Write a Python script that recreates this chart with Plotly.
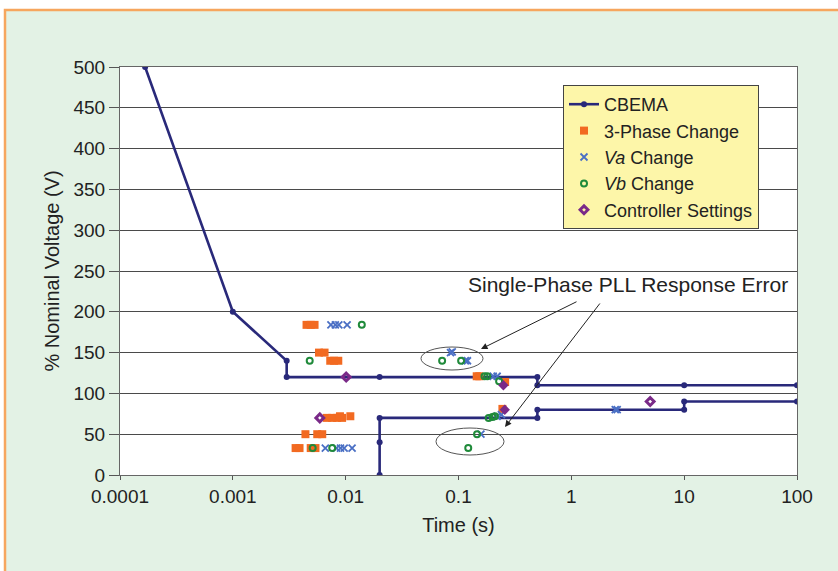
import plotly.graph_objects as go

# ---------------- data ----------------
cbema_t = [0.000167, 0.001, 0.003, 0.003, 0.02, 0.5, 0.5, 10, 100, None,
           0.02, 0.02, 0.02, 0.5, 0.5, 10, 10, 100]
cbema_v = [500, 200, 140, 120, 120, 120, 110, 110, 110, None,
           0, 40, 70, 70, 80, 80, 90, 90]

ph3_t = [0.0045, 0.0049, 0.0053,
         0.0058, 0.0065,
         0.0073, 0.0079, 0.0086,
         0.145, 0.153,
         0.259,
         0.245,
         0.0068, 0.0076, 0.0084, 0.0093,
         0.0089, 0.0110,
         0.0044, 0.0056, 0.0062,
         0.0036, 0.0039, 0.0049, 0.0054]
ph3_v = [184, 184, 184,
         150, 150,
         140, 140, 140,
         121, 121,
         114,
         81,
         70, 70, 70, 70,
         72, 72,
         50, 50, 50,
         33, 33, 33, 33]

va_t = [0.0074, 0.0081, 0.0087, 0.0103,
        0.085, 0.088,
        0.115, 0.120,
        0.203, 0.220,
        0.220, 0.240,
        0.158,
        0.0066, 0.0083, 0.0090, 0.0097, 0.0114,
        2.45, 2.55]
va_v = [184, 184, 184, 184,
        150, 151,
        140, 140,
        121, 121,
        72, 74,
        50,
        33, 33, 33, 33, 33,
        80, 80]

vb_t = [0.0139, 0.0048, 0.0716, 0.1055,
        0.170, 0.180, 0.229,
        0.185, 0.200, 0.210,
        0.146, 0.122, 0.0051, 0.0076]
vb_v = [184, 140, 140, 140,
        121, 121, 115,
        70, 71, 72,
        50, 33, 33, 33]

vc_t = [0.250, 0.257]
vc_v = [110, 80]

ctrl_t = [0.0101, 0.0059, 5.0]
ctrl_v = [120, 70, 90]

x_tickvals = [0.0001, 0.001, 0.01, 0.1, 1, 10, 100]
x_ticktext = ["0.0001", "0.001", "0.01", "0.1", "1", "10", "100"]
y_tickvals = list(range(0, 501, 50))

FONT = "Liberation Sans, Arial, Helvetica, sans-serif"

fig = go.Figure()

fig.add_trace(go.Scatter(
    x=cbema_t, y=cbema_v, name="CBEMA", mode="lines+markers",
    line=dict(color="#29297a", width=2.6),
    marker=dict(symbol="circle", size=6, color="#29297a"),
    connectgaps=False))

fig.add_trace(go.Scatter(
    x=ph3_t, y=ph3_v, name="3-Phase Change", mode="markers",
    marker=dict(symbol="square", size=8, color="#f26a21")))

fig.add_trace(go.Scatter(
    x=va_t, y=va_v, name="<i>Va</i> Change", mode="markers",
    marker=dict(symbol="x-thin", size=7, color="#4a6fc4",
                line=dict(color="#4a6fc4", width=1.8))))

fig.add_trace(go.Scatter(
    x=vb_t, y=vb_v, name="<i>Vb</i> Change", mode="markers",
    marker=dict(symbol="circle-open", size=6, color="#1f8a3a",
                line=dict(color="#1f8a3a", width=2))))

fig.add_trace(go.Scatter(
    x=vc_t, y=vc_v, name="Vc Change", mode="markers", showlegend=False,
    marker=dict(symbol="diamond", size=8, color="#7a2a88")))

fig.add_trace(go.Scatter(
    x=ctrl_t, y=ctrl_v, name="Controller Settings", mode="markers",
    marker=dict(symbol="diamond-open", size=6, color="#7a2a88",
                line=dict(color="#7a2a88", width=3))))

# plot-area geometry in pixels (for background shapes)
L, R, T, B = 120, 797, 67, 475
W, H = R - L, B - T


def px2paper_x(px):
    return (px - L) / W


def px2paper_y(py):
    return (B - py) / H


shapes = [
    # green page with orange border
    dict(type="rect", xref="paper", yref="paper", layer="below",
         x0=px2paper_x(5), x1=px2paper_x(860), y0=px2paper_y(600), y1=px2paper_y(10),
         fillcolor="#e3f2e5", line=dict(color="#f6a65e", width=2.5)),
    # white plot area
    dict(type="rect", xref="paper", yref="paper", layer="below",
         x0=0, x1=1, y0=0, y1=1, fillcolor="white", line=dict(width=0)),
    # ellipses
    dict(type="circle", xref="paper", yref="paper",
         x0=px2paper_x(421), x1=px2paper_x(483), y0=px2paper_y(370), y1=px2paper_y(347),
         line=dict(color="#555555", width=1)),
    dict(type="circle", xref="paper", yref="paper",
         x0=px2paper_x(436), x1=px2paper_x(504), y0=px2paper_y(455), y1=px2paper_y(428),
         line=dict(color="#555555", width=1)),
]

annotations = [
    dict(xref="paper", yref="paper", x=px2paper_x(628), y=px2paper_y(284),
         xanchor="center", yanchor="middle",
         text="Single-Phase PLL Response Error", showarrow=False,
         font=dict(family=FONT, size=21, color="#222222")),
    dict(xref="paper", yref="paper", x=px2paper_x(481), y=px2paper_y(349),
         ax=97, ay=-48, text="", showarrow=True, arrowhead=2, arrowsize=1.3,
         arrowwidth=1, arrowcolor="#222222"),
    dict(xref="paper", yref="paper", x=px2paper_x(505), y=px2paper_y(427),
         ax=96, ay=-125, text="", showarrow=True, arrowhead=2, arrowsize=1.3,
         arrowwidth=1, arrowcolor="#222222"),
]

fig.update_layout(
    width=838, height=571,
    margin=dict(l=L, r=838 - R, t=T, b=571 - B),
    paper_bgcolor="white",
    plot_bgcolor="rgba(0,0,0,0)",
    font=dict(family=FONT, size=19, color="#222222"),
    shapes=shapes,
    annotations=annotations,
    legend=dict(
        x=px2paper_x(563), y=px2paper_y(85), xanchor="left", yanchor="top",
        bgcolor="#fdf6a9", bordercolor="#444444", borderwidth=1,
        font=dict(family=FONT, size=18, color="#222222"),
        itemwidth=30, tracegroupgap=0),
    xaxis=dict(
        type="log", range=[-4, 2],
        tickvals=x_tickvals, ticktext=x_ticktext,
        showgrid=False, ticks="outside", ticklen=4, tickcolor="#555555",
        showline=True, linecolor="#666666", linewidth=1, mirror=True,
        title=dict(text="Time (s)", font=dict(family=FONT, size=20), standoff=12),
        tickfont=dict(family=FONT, size=19), zeroline=False),
    yaxis=dict(
        range=[0, 500], tickvals=y_tickvals,
        showgrid=True, gridcolor="#4a4a4a", gridwidth=1,
        ticks="outside", ticklen=10, tickcolor="#555555",
        showline=True, linecolor="#666666", linewidth=1, mirror=True,
        title=dict(text="% Nominal Voltage (V)", font=dict(family=FONT, size=20), standoff=8),
        tickfont=dict(family=FONT, size=19), zeroline=False),
)

fig.write_html("out.html")
